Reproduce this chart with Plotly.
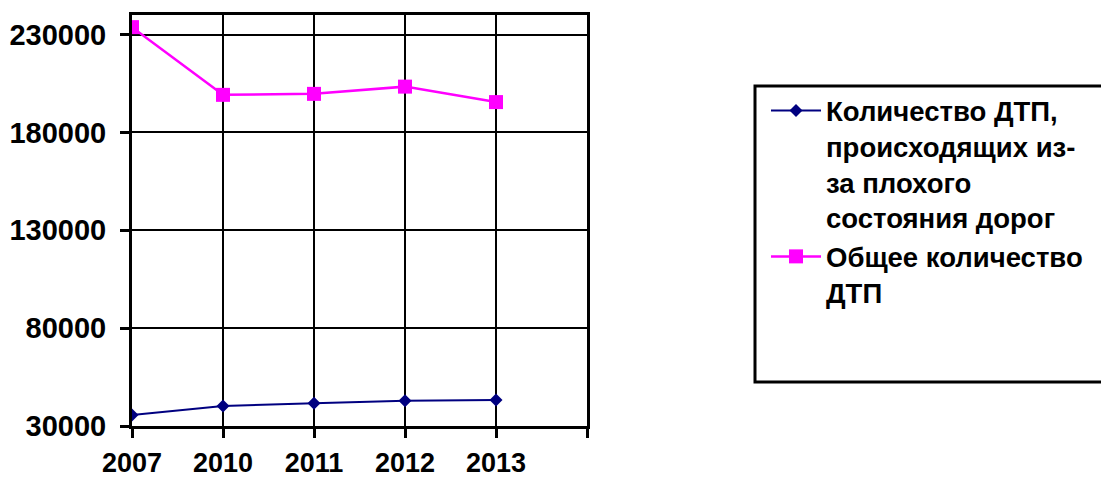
import plotly.graph_objects as go

# Road traffic accidents by year
years = ["2007", "2010", "2011", "2012", "2013"]
bad_roads = [35600, 40200, 41600, 42900, 43300]
total = [233800, 199200, 199700, 203400, 195500]

name_bad = "Количество ДТП,<br>происходящих из-<br>за плохого<br>состояния дорог"
name_total = "Общее количество<br>ДТП"

y_ticks = [30000, 80000, 130000, 180000, 230000]

W, H = 1101, 481
ML, MR, MT, MB = 132, 514, 15, 55
pw, ph = W - ML - MR, H - MT - MB


def px_x(p):
    return (p - ML) / pw


def px_y(p):
    return (H - MB - p) / ph


font = dict(family="Liberation Sans, Arial, sans-serif", color="black", weight="bold")

fig = go.Figure()
fig.add_trace(go.Scatter(
    x=years, y=bad_roads, name=name_bad, mode="lines+markers",
    line=dict(color="#000080", width=2),
    marker=dict(symbol="diamond", size=10, color="#000080"),
))
fig.add_trace(go.Scatter(
    x=years, y=total, name=name_total, mode="lines+markers",
    line=dict(color="#FF00FF", width=2.5),
    marker=dict(symbol="square", size=14, color="#FF00FF"),
))

# legend frame
fig.add_shape(
    type="rect", xref="paper", yref="paper",
    x0=px_x(755), x1=px_x(1120), y0=px_y(382), y1=px_y(86),
    line=dict(color="black", width=3), fillcolor="rgba(0,0,0,0)", layer="above",
)

fig.update_layout(
    width=W, height=H,
    margin=dict(l=ML, r=MR, t=MT, b=MB, pad=0, autoexpand=False),
    paper_bgcolor="white", plot_bgcolor="white",
    font=font,
    showlegend=True,
    legend=dict(
        x=px_x(766), y=px_y(86), xanchor="left", yanchor="top",
        font=dict(size=27.5, **font),
        bgcolor="rgba(0,0,0,0)", borderwidth=0, valign="top",
        traceorder="normal", itemwidth=50,
    ),
    xaxis=dict(
        type="category", categoryarray=years + [" "], range=[0, 5],
        showgrid=True, gridcolor="black", gridwidth=2,
        showline=True, linecolor="black", linewidth=3, mirror=True,
        ticks="outside", ticklen=9, tickwidth=3, tickcolor="black",
        tickfont=dict(size=27, **font), ticklabelstandoff=2,
        zeroline=False, automargin=False,
    ),
    yaxis=dict(
        range=[30000, 240000], tickvals=y_ticks, tickformat="d",
        showgrid=True, gridcolor="black", gridwidth=2,
        showline=True, linecolor="black", linewidth=3, mirror=True,
        ticks="outside", ticklen=9, tickwidth=3, tickcolor="black",
        tickfont=dict(size=29, **font), ticklabelstandoff=8,
        zeroline=False, automargin=False,
    ),
)

fig.write_html("out.html")
